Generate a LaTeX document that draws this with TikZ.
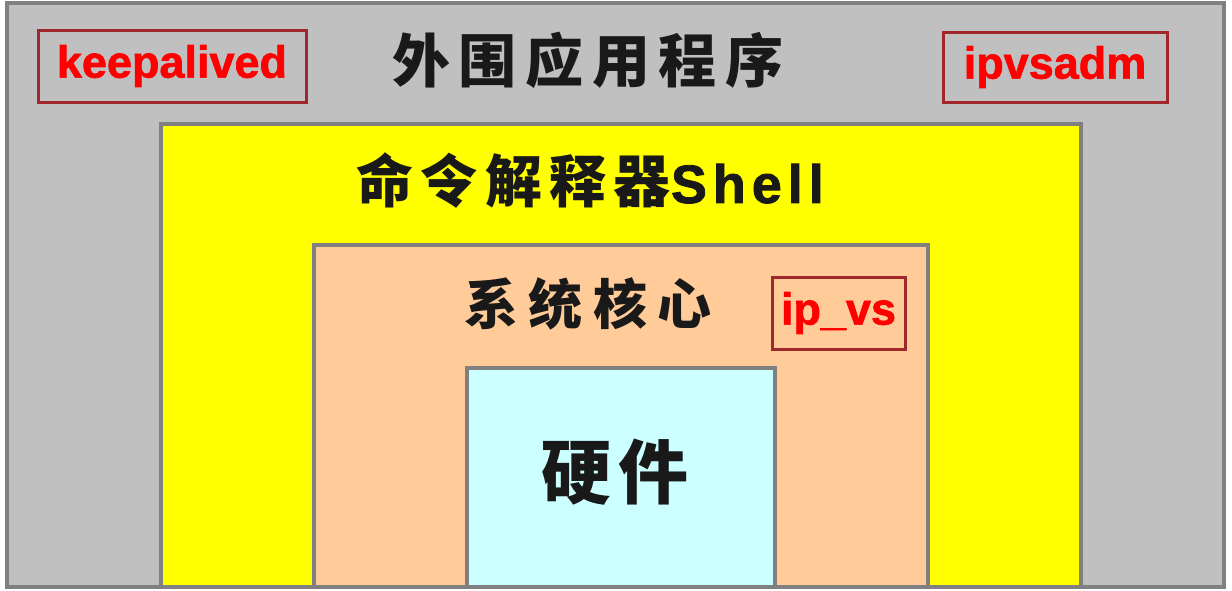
\documentclass[tikz,border=0pt]{standalone}
\usepackage{fontspec}
\setmainfont{Liberation Sans}
\newfontfamily\cjk{Noto Sans CJK SC}
\newfontfamily\lat{Liberation Sans}
\newfontfamily\tagfont[FakeBold=1.5]{Liberation Sans Bold}
\definecolor{layergray}{HTML}{C0C0C0}
\definecolor{layerborder}{HTML}{808080}
\definecolor{shellyellow}{HTML}{FFFF00}
\definecolor{kernelpeach}{HTML}{FFCC99}
\definecolor{hwcyan}{HTML}{CCFFFF}
\definecolor{tagred}{HTML}{FF0000}
\definecolor{tagborder}{HTML}{A0282D}
\tikzset{
  layer/.style={draw=layerborder, line width=4pt, rectangle, inner sep=0pt},
  tagbox/.style={draw=tagborder, line width=3pt, rectangle, inner sep=0pt,
    text=tagred, font=\tagfont\fontsize{45}{50}\selectfont},
  title/.style={inner sep=0pt, text=black!90}
}
\begin{document}
\begin{tikzpicture}[x=1pt,y=-1pt]
\useasboundingbox (0,0) rectangle (1232,590);
\fill[white] (0,0) rectangle (1232,590);
% nested layers
\node[layer, fill=layergray, minimum width=1217pt, minimum height=584pt] (outer) at (615.5,295) {};
\node[layer, fill=shellyellow, minimum width=920pt, minimum height=463pt] (shell) at (621,355.5) {};
\node[layer, fill=kernelpeach, minimum width=614pt, minimum height=342pt] (kernel) at (621,416) {};
\node[layer, fill=hwcyan, minimum width=308pt, minimum height=219pt] (hw) at (621,477.5) {};
% titles
\node[title, font=\cjk\bfseries\fontsize{58}{62}\selectfont\addfontfeatures{LetterSpace=15}] (tapp) at (588,60) {外围应用程序};
\node[title, font=\cjk\bfseries\fontsize{57}{62}\selectfont] (tshell) at (590,181) {{\addfontfeatures{LetterSpace=13}命令解释器}{\tagfont\fontsize{54}{60}\selectfont\addfontfeatures{LetterSpace=11}Shell}};
\node[title, font=\cjk\bfseries\fontsize{54}{58}\selectfont\addfontfeatures{LetterSpace=19}] (tkern) at (588,304) {系统核心};
\node[title, font=\cjk\bfseries\fontsize{70}{74}\selectfont\addfontfeatures{LetterSpace=10}] (thw) at (615,472) {硬件};
% tags
\node[tagbox, minimum width=268pt, minimum height=72pt] (keep) at (172,66) {keepalived};
\node[tagbox, minimum width=224pt, minimum height=70pt] (ipvsadm) at (1055,67) {ipvsadm};
\node[tagbox, minimum width=133pt, minimum height=72pt] (ipvs) at (838.5,313) {ip\_vs};
\end{tikzpicture}
\end{document}
